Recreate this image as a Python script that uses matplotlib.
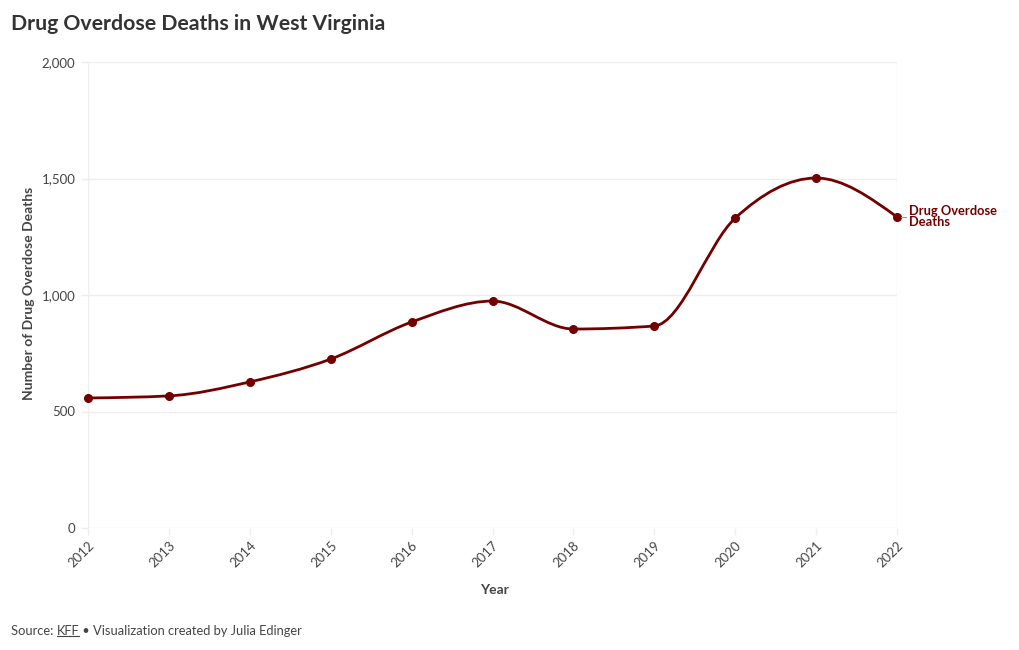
import matplotlib
matplotlib.use("Agg")
import matplotlib.pyplot as plt
from matplotlib.path import Path
from matplotlib.patches import PathPatch
from matplotlib.lines import Line2D
import numpy as np

years = [2012, 2013, 2014, 2015, 2016, 2017, 2018, 2019, 2020, 2021, 2022]
deaths = [558, 567, 627, 725, 884, 974, 854, 867, 1330, 1502, 1335]
yticks = [0, 500, 1000, 1500, 2000]
ytick_labels = ["0", "500", "1,000", "1,500", "2,000"]
series_name = "Drug Overdose\nDeaths"

LINE = "#730000"
TXT = "#444444"
GRID = "#eeeeee"
FONT = ["Lato", "DejaVu Sans"]
plt.rcParams["font.family"] = FONT

W, H = 1020, 650
fig = plt.figure(figsize=(W / 100, H / 100), dpi=100)
x0, x1, ytop, ybot = 88, 897, 62, 528
ax = fig.add_axes([x0 / W, (H - ybot) / H, (x1 - x0) / W, (ybot - ytop) / H])
ax.set_xlim(2012, 2022)
ax.set_ylim(0, 2000)
for s in ax.spines.values():
    s.set_visible(False)
ax.set_yticks(yticks)
ax.set_yticklabels(ytick_labels)
ax.set_xticks(years)
ax.set_xticklabels([str(y) for y in years], rotation=45, ha="right", rotation_mode="anchor")
ax.tick_params(axis="both", colors=GRID, labelcolor=TXT, labelsize=9.5, length=5, width=1)
ax.tick_params(axis="x", pad=3)
ax.tick_params(axis="y", pad=4)
for yv in yticks:
    ax.axhline(yv, color=GRID, lw=1, zorder=0)
ax.axvline(2012, color=GRID, lw=1, zorder=0)
ax.axvline(2022, color=GRID, lw=1, zorder=0)

# monotone-x cubic curve (d3.curveMonotoneX) in display space
pts = ax.transData.transform(np.column_stack([years, deaths]))
px, py = pts[:, 0], pts[:, 1]
n = len(px)
t = np.zeros(n)
for i in range(1, n - 1):
    h0 = px[i] - px[i - 1]
    h1 = px[i + 1] - px[i]
    s0 = (py[i] - py[i - 1]) / h0
    s1 = (py[i + 1] - py[i]) / h1
    p = (s0 * h1 + s1 * h0) / (h0 + h1)
    t[i] = (np.sign(s0) + np.sign(s1)) * min(abs(s0), abs(s1), 0.5 * abs(p))
h = px[1] - px[0]
t[0] = (3 * (py[1] - py[0]) / h - t[1]) / 2
h = px[-1] - px[-2]
t[-1] = (3 * (py[-1] - py[-2]) / h - t[-2]) / 2
verts = [pts[0]]
codes = [Path.MOVETO]
for i in range(n - 1):
    dx = (px[i + 1] - px[i]) / 3
    verts += [(px[i] + dx, py[i] + dx * t[i]), (px[i + 1] - dx, py[i + 1] - dx * t[i + 1]), pts[i + 1]]
    codes += [Path.CURVE4] * 3
patch = PathPatch(Path(np.array(verts), codes), facecolor="none", edgecolor=LINE,
                  lw=2.0, transform=None, zorder=3, capstyle="round", joinstyle="round")
patch.set_clip_on(False)
fig.add_artist(patch)
ax.plot(years, deaths, "o", color=LINE, ms=5.5, zorder=4, clip_on=False)

# end label
lx, ly = pts[-1]
fig.add_artist(Line2D([(lx + 4) / W, (lx + 9) / W], [ly / H, ly / H], color="#999999", lw=0.8))
fig.text((lx + 12) / W, ly / H + 0.001, series_name, color=LINE, fontsize=9.3, fontweight="bold",
         va="center", ha="left", linespacing=0.95)

# titles
fig.text(11 / W, 1 - 24 / H, "Drug Overdose Deaths in West Virginia", fontsize=15.3,
         fontweight="bold", color="#333333", va="center", ha="left")
fig.text(29 / W, 1 - 293 / H, "Number of Drug Overdose Deaths", rotation=90, fontsize=10,
         fontweight="bold", color=TXT, va="center", ha="center")
fig.text(494 / W, 1 - 590 / H, "Year", fontsize=10, fontweight="bold", color=TXT,
         va="center", ha="center")

# source
r = fig.canvas.get_renderer()
t1 = fig.text(11 / W, 1 - 631 / H, "Source: ", fontsize=9.3, color=TXT, va="center", ha="left")
b1 = t1.get_window_extent(r)
t2 = fig.text(b1.x1 / W, 1 - 631 / H, "KFF", fontsize=9.3, color=TXT, va="center", ha="left")
b2 = t2.get_window_extent(r)
fig.add_artist(Line2D([b2.x0 / W, b2.x1 / W], [(b2.y0 + 1) / H, (b2.y0 + 1) / H], color=TXT, lw=0.8))
fig.text(b2.x1 / W, 1 - 631 / H, " \u2022 Visualization created by Julia Edinger", fontsize=9.3,
         color=TXT, va="center", ha="left")

fig.savefig("out.png", dpi=100)
